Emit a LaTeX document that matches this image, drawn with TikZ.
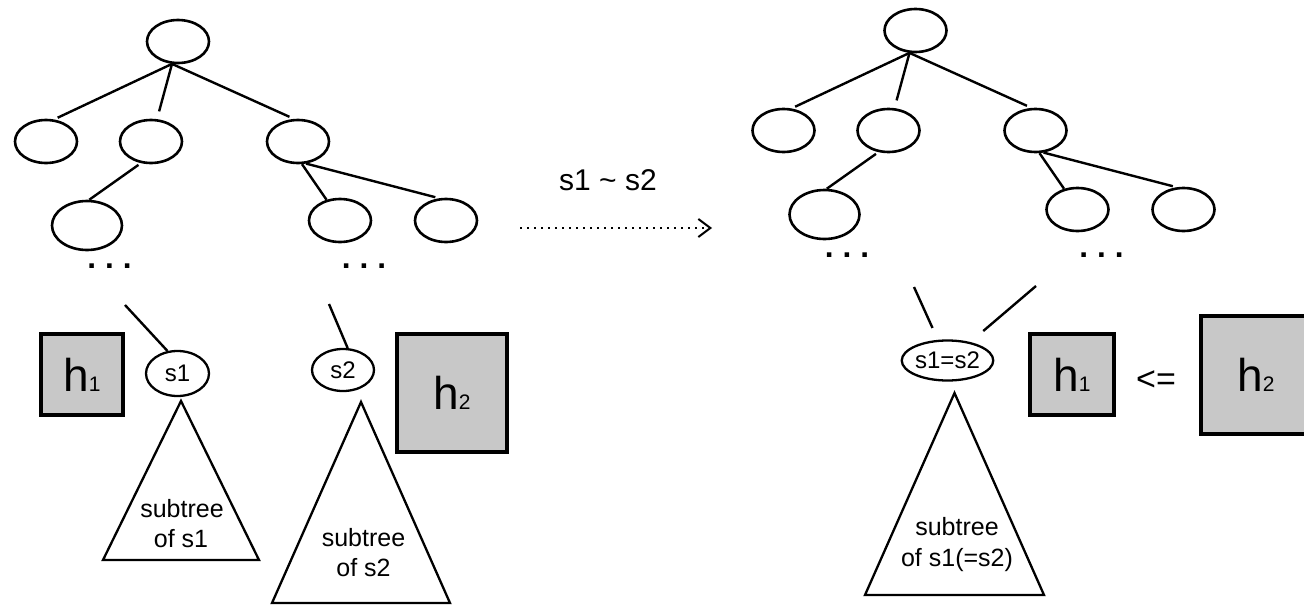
\documentclass[tikz,border=0pt]{standalone}
\usepackage{fontspec}
\setmainfont{Liberation Sans}
\usetikzlibrary{shapes.geometric,arrows.meta}
\definecolor{boxgray}{RGB}{200,200,200}
\newcommand{\setfs}[1]{\fontsize{#1}{#1}\selectfont}
\newcommand{\hlabel}[1]{{\setfs{46}h}{\setfs{21}#1}}
\newcommand{\elide}{.\hspace{9pt}.\hspace{9pt}.}

% One search tree with its node edges and the elided-level dots;
% drawn twice with different name prefixes and shifts.
\newcommand{\treebody}{%
  \node[tnode] (n0) at (178,41.5) {};
  \node[tnode] (n1) at (46,141.5) {};
  \node[tnode] (n2) at (151,141.5) {};
  \node[tnode] (n3) at (298,141.5) {};
  \node[wnode] (n4) at (87,225.5) {};
  \node[tnode] (n5) at (340,220.5) {};
  \node[tnode] (n6) at (446,220.5) {};
  \draw[tedge, shorten >=4pt] (n0.255) -- (n1.70);
  \draw[tedge, shorten >=8pt] (n0.255) -- (n2.75);
  \draw[tedge, shorten >=5pt] (n0.255) -- (n3.100);
  \draw[tedge, shorten <=3pt] (n2.245) -- (n4.85);
  \draw[tedge] (n3.280) -- (n5.123);
  \draw[tedge, shorten >=4pt] (n3.290) -- (n6.107);
  \node[dotrow] (d1) at (109.5,268) {\elide};
  \node[dotrow] (d2) at (364,268) {\elide};
}

\begin{document}
\begin{tikzpicture}[x=1pt,y=-1pt,
  tnode/.style={ellipse, draw, line width=2.6pt, minimum width=62pt, minimum height=43pt, inner sep=0pt},
  wnode/.style={tnode, minimum width=70pt, minimum height=49pt},
  lnode/.style={ellipse, draw, line width=2.3pt, inner sep=0pt, font=\setfs{24}},
  tedge/.style={line width=2.4pt},
  tri/.style={line width=2.3pt, line join=miter},
  tlabel/.style={anchor=base, inner sep=0pt, font=\setfs{25}},
  hbox/.style={draw, line width=4pt, fill=boxgray, inner sep=0pt},
  dotrow/.style={anchor=base, inner sep=0pt, font=\setfs{31.5}\bfseries},
  dottedarrow/.style={line width=2pt, dash pattern=on 2pt off 5pt,
    -{Straight Barb[length=12pt,width=18pt]}}]

\useasboundingbox (0,0) rectangle (1304,605);

% ---- trees before and after merging ----
\begin{scope}[name prefix=L-]
  \treebody
\end{scope}
\begin{scope}[shift={(737.5,-11)}, name prefix=R-]
  \treebody
\end{scope}

% ---- left: two separate subtrees ----
\coordinate (t1) at (125,305);
\coordinate (t2) at (329,304);
\node[lnode, minimum width=63pt, minimum height=45pt] (s1) at (177.5,373.5) {s1};
\node[lnode, minimum width=62pt, minimum height=42pt] (s2) at (343,370) {s2};
\draw[tedge] (t1) -- (s1.114);
\draw[tedge] (t2) -- (s2.78);

\draw[tri] (181,401) -- (259,560) -- (103,560) -- cycle;
\node[tlabel] (sub1a) at (182,517) {subtree};
\node[tlabel] (sub1b) at (181,547) {of s1};

\draw[tri] (361,402) -- (450,603) -- (272,603) -- cycle;
\node[tlabel] (sub2a) at (363.5,546) {subtree};
\node[tlabel] (sub2b) at (363.5,576) {of s2};

\node[hbox, minimum width=82pt, minimum height=81pt] (h1L) at (82,374.5) {\hlabel{1}};
\node[hbox, minimum width=110pt, minimum height=118pt] (h2L) at (452,393) {\hlabel{2}};

% ---- merge step ----
\node[anchor=base, inner sep=0pt, font=\setfs{30}] (eq) at (608,190) {s1 \textasciitilde{} s2};
\coordinate (a0) at (520,228);
\coordinate (a1) at (712,228);
\draw[dottedarrow] (a0) -- (a1);

% ---- right: one shared subtree ----
\coordinate (t3) at (914,287);
\coordinate (t4) at (1036,286);
\node[lnode, minimum width=91pt, minimum height=40pt] (s12) at (947.5,360.5) {s1=s2};
\draw[tedge, shorten >=13pt] (t3) -- (s12.115);
\draw[tedge, shorten >=17pt] (t4) -- (s12.39.6);

\draw[tri] (954.5,393) -- (1044,595) -- (865,595) -- cycle;
\node[tlabel] (sub3a) at (957,535) {subtree};
\node[tlabel] (sub3b) at (957,566) {of s1(=s2)};

\node[hbox, minimum width=84pt, minimum height=81pt] (h1R) at (1072,374.5) {\hlabel{1}};
\node[inner sep=0pt, font=\setfs{34}] (le) at (1156,381) {<=};
\node[hbox, minimum width=110pt, minimum height=118pt] (h2R) at (1256,375) {\hlabel{2}};

\end{tikzpicture}
\end{document}
